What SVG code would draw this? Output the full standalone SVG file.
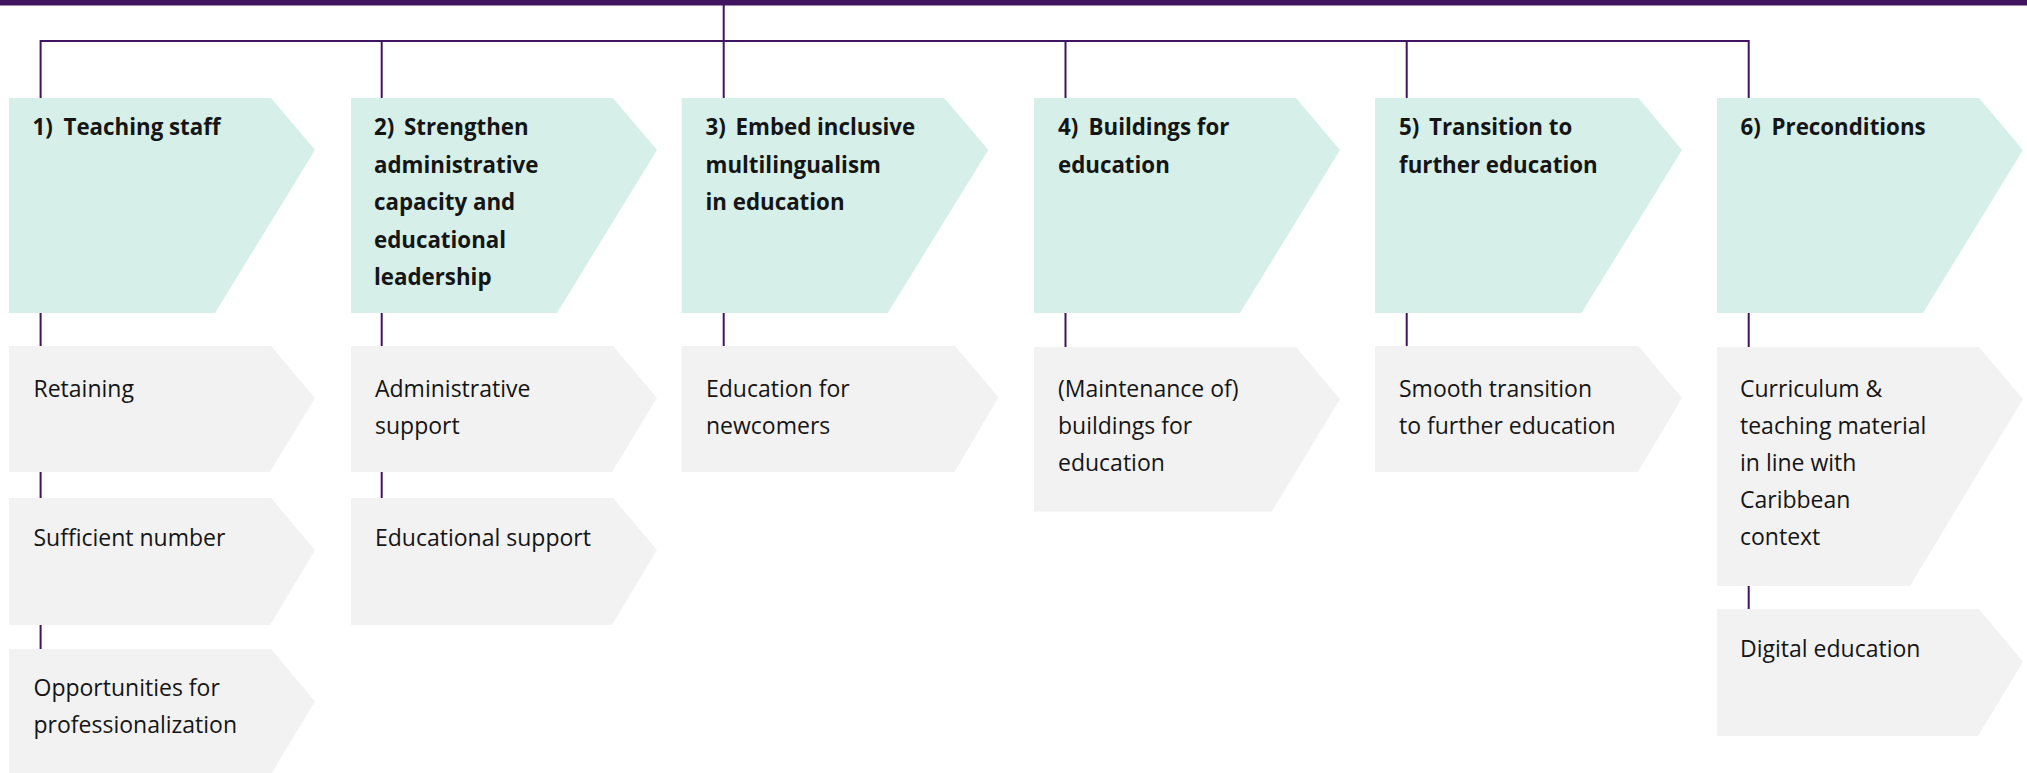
<svg xmlns="http://www.w3.org/2000/svg" width="2027" height="773" viewBox="0 0 2027 773">
<style>
.bg{fill:#ffffff}
.main{fill:#d6f0e9}
.sub{fill:#f2f2f2}
.ln{stroke:#42145f;stroke-width:2;fill:none}
.t{font-family:"Open Sans","Noto Sans","Liberation Sans",sans-serif;font-size:23px;fill:#151515}
.b{font-weight:700;font-size:22.3px}
</style>
<rect class="bg" x="0" y="0" width="2027" height="773"/>
<rect x="0" y="0" width="2027" height="5.5" fill="#42145f"/>
<g id="connectors">
<path class="ln" d="M723.7 5 V98 M40.6 41 H1748.7 M40.6 40 V98 M381.7 40 V98 M1065.5 40 V98 M1406.7 40 V98 M1748.7 40 V98"/>
<path class="ln" d="M40.6 313 V346 M40.6 472 V498 M40.6 625 V649 M381.7 313 V346 M381.7 472 V498 M723.7 313 V346 M1065.5 313 V347 M1406.7 313 V346 M1748.7 313 V347 M1748.7 586 V609"/>
</g>
<g id="n1">
<path class="main" d="M9 98 H271 L315 150 L215 313 H9 Z"/>
<text class="t b" y="135"><tspan x="32.5">1)</tspan><tspan x="63.5">Teaching staff</tspan></text>
</g>
<g id="n1a">
<path class="sub" d="M9 346 H271 L315 398 L270 472 H9 Z"/>
<text class="t" x="33.5" y="397">Retaining</text>
</g>
<g id="n1b">
<path class="sub" d="M9 498 H271 L315 550 L270 625 H9 Z"/>
<text class="t" x="33.5" y="546">Sufficient number</text>
</g>
<g id="n1c">
<path class="sub" d="M9 649 H271 L315 701.5 L270 776 H9 Z"/>
<text class="t" x="33.5" y="696">Opportunities for</text>
<text class="t" x="33.5" y="732.5">professionalization</text>
</g>
<g id="n2">
<path class="main" d="M351 98 H613 L657 150 L557 313 H351 Z"/>
<text class="t b" y="135"><tspan x="374">2)</tspan><tspan x="404">Strengthen</tspan></text>
<text class="t b" x="374" y="172.5">administrative</text>
<text class="t b" x="374" y="210">capacity and</text>
<text class="t b" x="374" y="247.5">educational</text>
<text class="t b" x="374" y="285">leadership</text>
</g>
<g id="n2a">
<path class="sub" d="M351 346 H613 L657 398 L612 472 H351 Z"/>
<text class="t" x="375" y="397">Administrative</text>
<text class="t" x="375" y="433.5">support</text>
</g>
<g id="n2b">
<path class="sub" d="M351 498 H613 L657 550 L612 625 H351 Z"/>
<text class="t" x="375" y="546">Educational support</text>
</g>
<g id="n3">
<path class="main" d="M681.7 98 H944.3 L988.3 150 L887.7 313 H681.7 Z"/>
<text class="t b" y="135"><tspan x="705.5">3)</tspan><tspan x="735.5">Embed inclusive</tspan></text>
<text class="t b" x="705.5" y="172.5">multilingualism</text>
<text class="t b" x="705.5" y="210">in education</text>
</g>
<g id="n3a">
<path class="sub" d="M681.5 346 H955 L998.5 397.3 L954.5 472 H681.5 Z"/>
<text class="t" x="706" y="397">Education for</text>
<text class="t" x="706" y="433.5">newcomers</text>
</g>
<g id="n4">
<path class="main" d="M1034 98 H1296 L1340 150 L1240 313 H1034 Z"/>
<text class="t b" y="135"><tspan x="1058">4)</tspan><tspan x="1088.5">Buildings for</tspan></text>
<text class="t b" x="1058" y="172.5">education</text>
</g>
<g id="n4a">
<path class="sub" d="M1034 347 H1296 L1340 399 L1272 511.5 H1034 Z"/>
<text class="t" x="1058" y="397">(Maintenance of)</text>
<text class="t" x="1058" y="433.5">buildings for</text>
<text class="t" x="1058" y="470.5">education</text>
</g>
<g id="n5">
<path class="main" d="M1375 98 H1638.5 L1682 150 L1581.5 313 H1375 Z"/>
<text class="t b" y="135"><tspan x="1399">5)</tspan><tspan x="1429">Transition to</tspan></text>
<text class="t b" x="1399" y="172.5">further education</text>
</g>
<g id="n5a">
<path class="sub" d="M1375 346 H1638.5 L1682 398 L1638 472 H1375 Z"/>
<text class="t" x="1399" y="397">Smooth transition</text>
<text class="t" x="1399" y="433.5">to further education</text>
</g>
<g id="n6">
<path class="main" d="M1717 98 H1979 L2023 150 L1923 313 H1717 Z"/>
<text class="t b" y="135"><tspan x="1740.5">6)</tspan><tspan x="1771.5">Preconditions</tspan></text>
</g>
<g id="n6a">
<path class="sub" d="M1717 347 H1979 L2023 399 L1910 586 H1717 Z"/>
<text class="t" x="1740" y="397">Curriculum &amp;</text>
<text class="t" x="1740" y="433.5">teaching material</text>
<text class="t" x="1740" y="470.5">in line with</text>
<text class="t" x="1740" y="508">Caribbean</text>
<text class="t" x="1740" y="545">context</text>
</g>
<g id="n6b">
<path class="sub" d="M1717 609 H1979 L2023 661.7 L1978 736 H1717 Z"/>
<text class="t" x="1740" y="657">Digital education</text>
</g>
</svg>
